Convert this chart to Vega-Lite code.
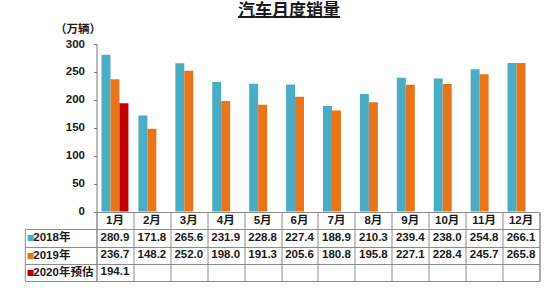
{
  "$schema": "https://vega.github.io/schema/vega-lite/v6.json",
  "padding": {"left": 23.5, "top": 2, "right": 5, "bottom": 5},
  "autosize": {"type": "pad"},
  "background": "white",
  "config": {
    "font": "Liberation Sans, Arial, Noto Sans CJK SC, sans-serif",
    "text": {"font": "Liberation Sans, Arial, Noto Sans CJK SC, sans-serif"}
  },
  "datasets": {
    "sales": [
      {"month": "1月", "series": "2018年", "value": 280.9},
      {"month": "2月", "series": "2018年", "value": 171.8},
      {"month": "3月", "series": "2018年", "value": 265.6},
      {"month": "4月", "series": "2018年", "value": 231.9},
      {"month": "5月", "series": "2018年", "value": 228.8},
      {"month": "6月", "series": "2018年", "value": 227.4},
      {"month": "7月", "series": "2018年", "value": 188.9},
      {"month": "8月", "series": "2018年", "value": 210.3},
      {"month": "9月", "series": "2018年", "value": 239.4},
      {"month": "10月", "series": "2018年", "value": 238.0},
      {"month": "11月", "series": "2018年", "value": 254.8},
      {"month": "12月", "series": "2018年", "value": 266.1},
      {"month": "1月", "series": "2019年", "value": 236.7},
      {"month": "2月", "series": "2019年", "value": 148.2},
      {"month": "3月", "series": "2019年", "value": 252.0},
      {"month": "4月", "series": "2019年", "value": 198.0},
      {"month": "5月", "series": "2019年", "value": 191.3},
      {"month": "6月", "series": "2019年", "value": 205.6},
      {"month": "7月", "series": "2019年", "value": 180.8},
      {"month": "8月", "series": "2019年", "value": 195.8},
      {"month": "9月", "series": "2019年", "value": 227.1},
      {"month": "10月", "series": "2019年", "value": 228.4},
      {"month": "11月", "series": "2019年", "value": 245.7},
      {"month": "12月", "series": "2019年", "value": 265.8},
      {"month": "1月", "series": "2020年预估", "value": 194.1}
    ],
    "header": [
      {"month": "1月", "row": "月份"},
      {"month": "2月", "row": "月份"},
      {"month": "3月", "row": "月份"},
      {"month": "4月", "row": "月份"},
      {"month": "5月", "row": "月份"},
      {"month": "6月", "row": "月份"},
      {"month": "7月", "row": "月份"},
      {"month": "8月", "row": "月份"},
      {"month": "9月", "row": "月份"},
      {"month": "10月", "row": "月份"},
      {"month": "11月", "row": "月份"},
      {"month": "12月", "row": "月份"}
    ]
  },
  "title": {
    "text": "汽车月度销量",
    "subtitle": "━━━━━━",
    "font": "Noto Sans CJK SC",
    "fontSize": 17,
    "fontWeight": "bold",
    "color": "#1a1a1a",
    "subtitleFont": "Noto Sans CJK SC",
    "subtitleFontSize": 17,
    "subtitleFontWeight": "normal",
    "subtitleColor": "#1a1a1a",
    "subtitlePadding": -9.5,
    "anchor": "middle",
    "dx": 7,
    "offset": -4.5
  },
  "spacing": 0,
  "bounds": "flush",
  "vconcat": [
    {
      "width": 443,
      "height": 167.5,
      "view": {"stroke": null},
      "data": {"name": "sales"},
      "mark": {"type": "bar"},
      "encoding": {
        "x": {
          "field": "month",
          "type": "nominal",
          "scale": {
            "domain": ["1月", "2月", "3月", "4月", "5月", "6月", "7月", "8月", "9月", "10月", "11月", "12月"],
            "paddingInner": 0.27,
            "paddingOuter": 0.135
          },
          "axis": null
        },
        "xOffset": {
          "field": "series",
          "type": "nominal",
          "scale": {"domain": ["2018年", "2019年", "2020年预估"], "paddingInner": 0, "paddingOuter": 0}
        },
        "y": {
          "field": "value",
          "type": "quantitative",
          "scale": {"domain": [0, 300], "nice": false},
          "axis": {
            "values": [0, 50, 100, 150, 200, 250, 300],
            "grid": false,
            "domainColor": "#777777",
            "tickColor": "#777777",
            "tickSize": 3,
            "labelPadding": 9,
            "labelFontWeight": "bold",
            "labelFontSize": 11.5,
            "labelColor": "#1a1a1a",
            "title": "（万辆）",
            "titleFont": "Noto Sans CJK SC",
            "titleAngle": 0,
            "titleX": -19,
            "titleY": -15,
            "titleAlign": "center",
            "titleBaseline": "middle",
            "titleFontWeight": "bold",
            "titleFontSize": 11.5,
            "titleColor": "#1a1a1a"
          }
        },
        "color": {
          "field": "series",
          "type": "nominal",
          "scale": {"domain": ["2018年", "2019年", "2020年预估"], "range": ["#4bacc6", "#e8751a", "#c00000"]},
          "legend": null
        }
      }
    },
    {
      "width": 443,
      "height": 69,
      "view": {"stroke": "#8c8c8c"},
      "encoding": {
        "x": {
          "field": "month",
          "type": "nominal",
          "scale": {
            "domain": ["1月", "2月", "3月", "4月", "5月", "6月", "7月", "8月", "9月", "10月", "11月", "12月"],
            "paddingInner": 0,
            "paddingOuter": 0
          },
          "axis": {
            "orient": "bottom",
            "grid": true,
            "tickBand": "extent",
            "gridColor": "#8c8c8c",
            "gridOpacity": 1,
            "labels": false,
            "ticks": false,
            "domain": false,
            "title": null
          }
        }
      },
      "layer": [
        {
          "data": {"name": "sales"},
          "mark": {"type": "text", "fontWeight": "bold", "fontSize": 11.5, "color": "#1a1a1a"},
          "encoding": {
            "y": {
              "field": "series",
              "type": "nominal",
              "scale": {"domain": ["月份", "2018年", "2019年", "2020年预估"], "paddingInner": 0, "paddingOuter": 0},
              "axis": {
                "orient": "left",
                "title": null,
                "domain": false,
                "grid": true,
                "gridColor": "#8c8c8c",
                "gridOpacity": 1,
                "tickOffset": 8.625,
                "labelOffset": -8.625,
                "tickSize": 71.7,
                "tickColor": "#8c8c8c",
                "labelExpr": "datum.value == '月份' ? '' : datum.value",
                "labelAlign": "left",
                "labelPadding": -8,
                "labelFontWeight": "bold",
                "labelFontSize": 11.5,
                "labelColor": "#1a1a1a"
              }
            },
            "text": {"field": "value", "type": "quantitative", "format": ".1f"}
          }
        },
        {
          "data": {"name": "header"},
          "mark": {"type": "text", "fontWeight": "bold", "fontSize": 11.5, "color": "#1a1a1a"},
          "encoding": {
            "y": {
              "field": "row",
              "type": "nominal",
              "axis": {
                "orient": "left",
                "offset": 71.7,
                "title": null,
                "domain": true,
                "domainColor": "#8c8c8c",
                "domainDash": [0, 17.25, 51.75, 0],
                "grid": false,
                "ticks": false,
                "tickSize": 0,
                "labelExpr": "datum.value == '月份' ? '' : '■'",
                "labelAlign": "left",
                "labelPadding": -1.5,
                "labelFontSize": 8,
                "labelFont": "DejaVu Sans",
                "labelColor": {
                  "condition": [
                    {"test": "datum.value == '2018年'", "value": "#4bacc6"},
                    {"test": "datum.value == '2019年'", "value": "#e8751a"}
                  ],
                  "value": "#c00000"
                }
              }
            },
            "text": {"field": "month", "type": "nominal"}
          }
        }
      ],
      "resolve": {"axis": {"y": "independent"}}
    }
  ]
}
